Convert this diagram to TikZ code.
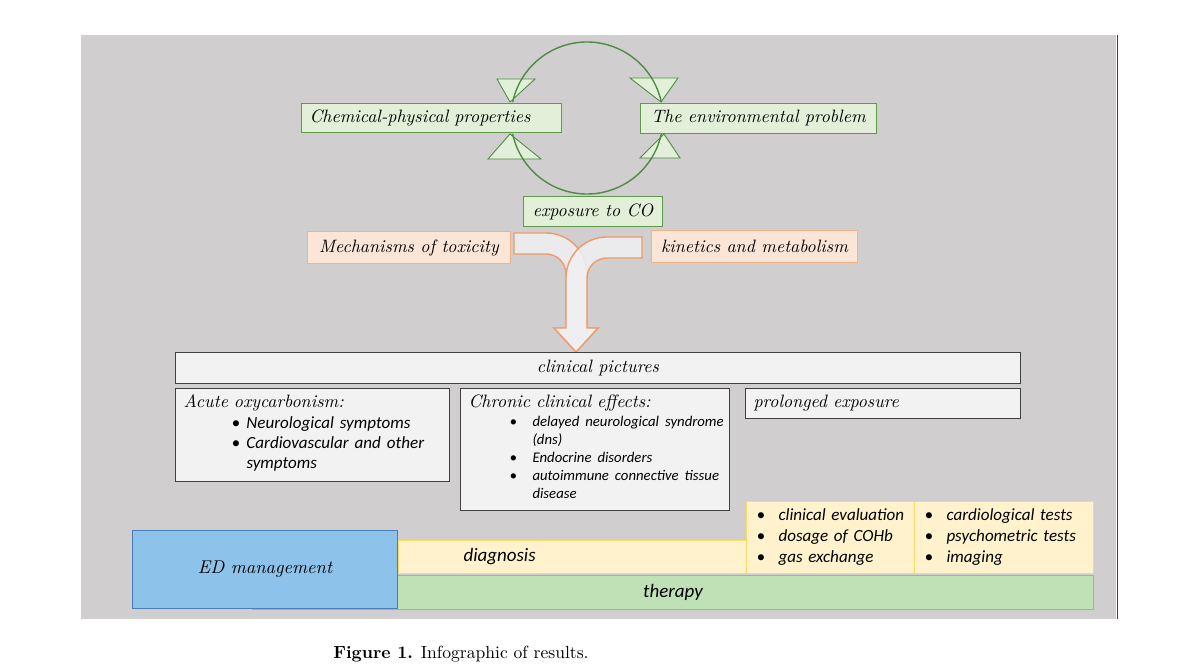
\documentclass[tikz,border=0pt]{standalone}
\usepackage{fontspec}
\newfontfamily\calibri{Carlito}

\definecolor{bggray}{HTML}{D0CECE}
\definecolor{cogreen}{HTML}{5E9A4C}
\definecolor{cogreenfill}{HTML}{E2F0D9}
\definecolor{cyclegreen}{HTML}{4E8C45}
\definecolor{coorange}{HTML}{F4B183}
\definecolor{coorangefill}{HTML}{FBE5D6}
\definecolor{arroworange}{HTML}{F19A6A}
\definecolor{arrowfill}{HTML}{F0F0F2}
\definecolor{cogray}{HTML}{404040}
\definecolor{cograyfill}{HTML}{F2F2F2}
\definecolor{coyellow}{HTML}{FFD966}
\definecolor{coyellowfill}{HTML}{FFF2CC}
\definecolor{cotherapy}{HTML}{8CC47A}
\definecolor{cotherapyfill}{HTML}{BEE2B6}
\definecolor{coblue}{HTML}{4A7EBB}
\definecolor{cobluefill}{HTML}{8DC3EA}

\tikzstyle{box} = [rectangle, anchor=north west, inner xsep=0.16cm, inner ysep=0pt, line width=0.6pt, font=\fontsize{10.2}{12}\selectfont\itshape]
\tikzstyle{greenbox} = [box, draw=cogreen, fill=cogreenfill]
\tikzstyle{orangebox} = [box, draw=coorange, fill=coorangefill]
\tikzstyle{graybox} = [box, draw=cogray, fill=cograyfill]
\tikzstyle{yellowbox} = [box, draw=coyellow, fill=coyellowfill, font=\calibri\fontsize{9.7}{12}\selectfont\itshape]
\tikzstyle{therapybox} = [box, draw=cotherapy, fill=cotherapyfill, font=\calibri\fontsize{10.8}{13}\selectfont\itshape]
\tikzstyle{bluebox} = [box, draw=coblue, fill=cobluefill, font=\fontsize{10.5}{12}\selectfont\itshape]
\tikzstyle{cycline} = [line width=0.8pt, draw=cyclegreen]
\tikzstyle{cyctri} = [line width=0.5pt, draw=cyclegreen, fill=cogreenfill]
\tikzstyle{tarrow} = [line width=0.8pt, draw=arroworange, fill=arrowfill, fill opacity=0.85]

\begin{document}
\begin{tikzpicture}[x=0.02cm, y=-0.02cm]
        \useasboundingbox (0,0) rectangle (1200,668);
        \fill [bggray] (81,35) rectangle (1116,619);
        \draw [line width=1pt, black!75] (1117.5,35) -- (1117.5,619);

        % cycle between the two top boxes
        \coordinate (cyc) at (587,118);
        \filldraw [cyctri] (497,79) -- (535,79) -- (510,102) -- cycle;
        \filldraw [cyctri] (630,78) -- (678,78) -- (661,102) -- cycle;
        \filldraw [cyctri] (488,159) -- (541,159) -- (510,134) -- cycle;
        \filldraw [cyctri] (640,158) -- (680,158) -- (664,134) -- cycle;
        \draw [cycline] (cyc) ++(192:76) arc[start angle=192, end angle=348, radius=76];
        \draw [cycline] (cyc) ++(168:76) arc[start angle=168, end angle=12, radius=76];

        \node (chem) [greenbox, text width=4.88cm, align=left, minimum height=0.58cm] at (301,103) {Chemical-physical properties};
        \node (env) [greenbox, minimum width=4.72cm, minimum height=0.6cm] at (640,103) {The environmental problem};
        \node (expo) [greenbox, minimum width=2.78cm, minimum height=0.6cm] at (523,196) {exposure to CO};
        \node (mech) [orangebox, minimum width=4.06cm, minimum height=0.64cm] at (307,231) {Mechanisms of toxicity};
        \node (kin) [orangebox, minimum width=4.12cm, minimum height=0.64cm] at (651,230) {kinetics and metabolism};

        % merging arrow
        \filldraw [tarrow] (514,233) -- (546,233) arc[start angle=270, end angle=360, radius=41] -- (587,328) -- (598,328) -- (576,352) -- (554,328) -- (566,328) -- (566,274) arc[start angle=360, end angle=270, radius=20] -- (514,254) -- cycle;
        \filldraw [tarrow] (642,237) -- (607,237) arc[start angle=270, end angle=180, radius=41] -- (566,328) -- (554,328) -- (576,352) -- (598,328) -- (587,328) -- (587,278) arc[start angle=180, end angle=270, radius=20] -- (642,258) -- cycle;

        \node (clin) [graybox, minimum width=16.9cm, minimum height=0.62cm] at (175,352) {clinical pictures};
        \node (acute) [graybox, text width=5.16cm, align=left, minimum height=1.86cm] at (175,388) {Acute oxycarbonism:\\
            \hspace*{0.96cm}{\calibri\itshape\fontsize{9.7}{11.4}\selectfont\begin{tabular}[t]{@{}p{0.3cm}@{}l@{}}
            \textbullet & Neurological symptoms\\
            \textbullet & Cardiovascular and other\\
             & symptoms
            \end{tabular}}};
        \node (chronic) [graybox, text width=5.06cm, align=left, minimum height=2.44cm] at (460,388) {Chronic clinical effects:\\[-1pt]
            \hspace*{0.82cm}{\calibri\itshape\fontsize{8.4}{10.25}\selectfont\begin{tabular}[t]{@{}p{0.46cm}@{}l@{}}
            \textbullet & delayed neurological syndrome\\
             & (dns)\\
            \textbullet & Endocrine disorders\\
            \textbullet & autoimmune connective tissue\\
             & disease
            \end{tabular}}};
        \node (prolonged) [graybox, text width=5.18cm, align=left, minimum height=0.6cm] at (745,388) {prolonged exposure};

        % management
        \node (therapy) [therapybox, minimum width=16.82cm, minimum height=0.68cm] at (252,575) {therapy};
        \node (diag) [yellowbox, text width=6.64cm, align=left, minimum height=0.66cm, font=\calibri\fontsize{10.8}{13}\selectfont\itshape] at (398,540) {\hspace*{1.14cm}diagnosis};
        \node (eval) [yellowbox, text width=3.04cm, align=left, minimum height=1.44cm] at (746,501) {\hspace*{0.04cm}\begin{tabular}{@{}p{0.44cm}@{}l@{}}
            \textbullet & clinical evaluation\\
            \textbullet & dosage of COHb\\
            \textbullet & gas exchange
            \end{tabular}};
        \node (tests) [yellowbox, text width=3.26cm, align=left, minimum height=1.44cm] at (914,501) {\hspace*{0.04cm}\begin{tabular}{@{}p{0.44cm}@{}l@{}}
            \textbullet & cardiological tests\\
            \textbullet & psychometric tests\\
            \textbullet & imaging
            \end{tabular}};
        \node (ed) [bluebox, minimum width=5.3cm, minimum height=1.56cm] at (132,530) {ED management};

        \node (caption) at (461,654) {\textbf{Figure 1.} Infographic of results.};
\end{tikzpicture}
\end{document}
